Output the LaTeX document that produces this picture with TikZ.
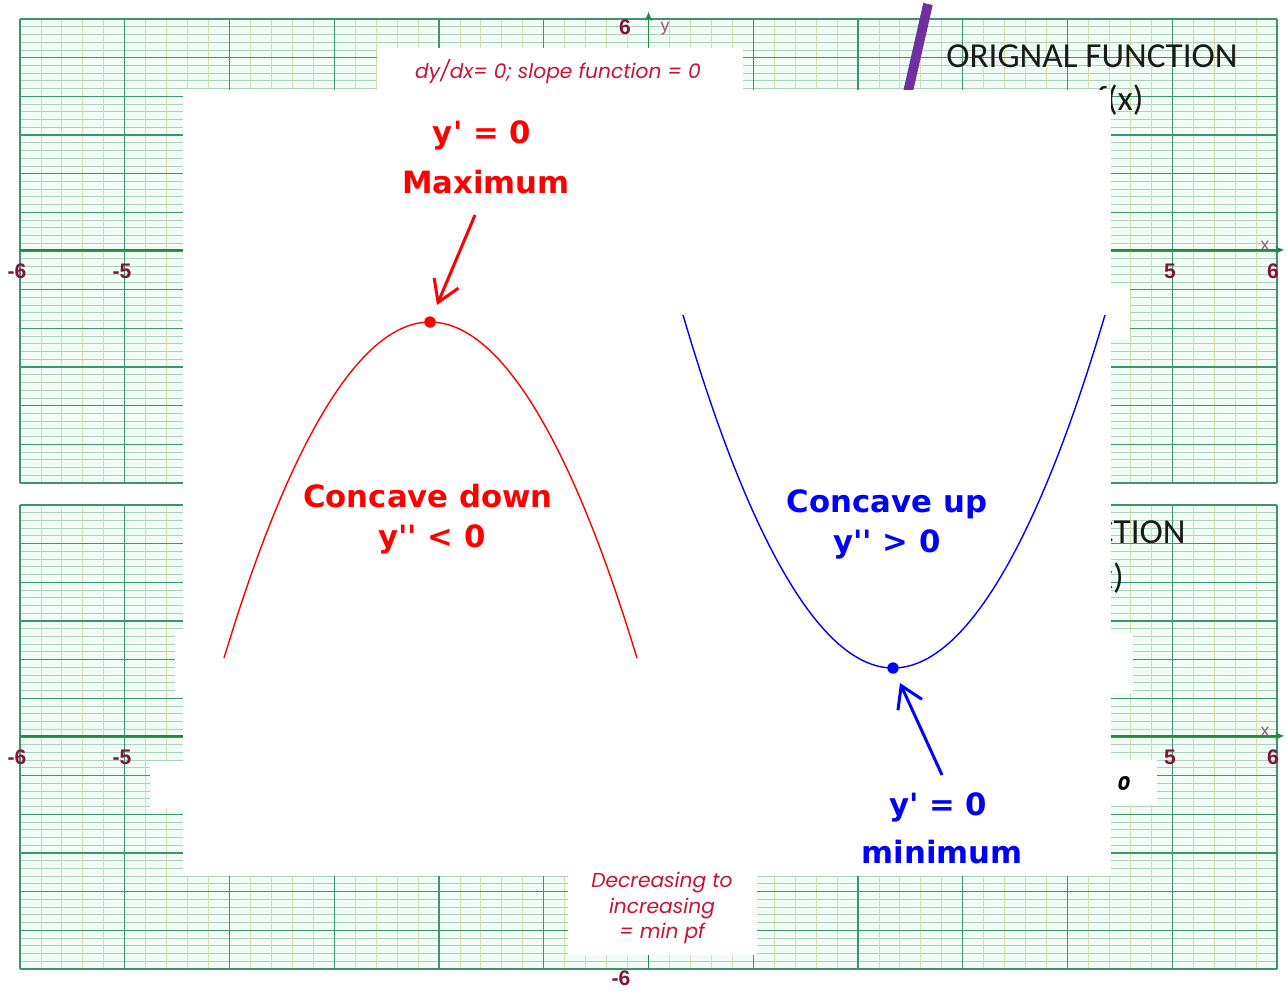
\documentclass[tikz,border=0pt]{standalone}
\usepackage{fontspec}
\setmainfont{DejaVu Sans}
\newfontfamily\pixfont{DejaVu Sans}
\newfontfamily\gothfont{Poppins}
\newfontfamily\calfont{Carlito}
\newfontfamily\tickfont{Liberation Sans}
\usetikzlibrary{arrows.meta}

\definecolor{paper}{RGB}{242,252,247}
\definecolor{minorh}{RGB}{172,210,188}
\definecolor{minorv}{RGB}{212,222,170}
\definecolor{majorgrid}{RGB}{62,148,112}
\definecolor{axisgreen}{RGB}{30,140,60}
\definecolor{tickred}{RGB}{130,20,60}
\definecolor{axisname}{RGB}{150,90,110}
\definecolor{crimson}{RGB}{200,20,50}
\definecolor{penpurple}{RGB}{112,48,160}

\tikzset{
  minor h/.style={minorh, line width=0.45pt},
  minor v/.style={minorv, line width=0.5pt},
  major line/.style={majorgrid, line width=0.8pt},
  axis line/.style={axisgreen, line width=1pt, -{Stealth[length=5pt,width=4pt]}},
  tick label/.style={tickred, inner sep=0pt, font=\tickfont\bfseries\fontsize{12}{12}\selectfont},
  axis name/.style={axisname, inner sep=0pt, font=\tickfont\fontsize{10}{10}\selectfont},
  title text/.style={black!90, inner sep=0pt, font=\calfont\fontsize{20}{22}\selectfont},
  note text/.style={crimson, inner sep=0pt, align=center, font=\gothfont\itshape\fontsize{11.5}{14.5}\selectfont},
  red label/.style={red, inner sep=0pt, anchor=base, font=\pixfont\bfseries\fontsize{17.5}{20}\selectfont},
  blue label/.style={blue, inner sep=0pt, anchor=base, font=\pixfont\bfseries\fontsize{17.5}{20}\selectfont},
  red dot/.style={circle, fill=red, inner sep=0pt, minimum size=6.5pt},
  blue dot/.style={circle, fill=blue, inner sep=0pt, minimum size=6.5pt},
  red arrow/.style={red, line width=1.7pt, ->},
  blue arrow/.style={blue, line width=1.7pt, ->}
}

\begin{document}
\begin{tikzpicture}[x=0.02cm, y=-0.02cm, >={Straight Barb[length=12pt,width=15pt]}]
\useasboundingbox (0,0) rectangle (1287,995);
\fill[white] (0,0) rectangle (1287,995);

% graph paper, one sheet above the other
\foreach \py/\p in {0/top, -9.72/bot}{
  \begin{scope}[yshift=\py cm]
    \fill[paper] (20,19) rectangle (1277,483);
    \foreach \i in {1,...,59} \draw[minor h] (20,19+\i*7.733) -- (1277,19+\i*7.733);
    \foreach \i in {1,...,59} \draw[minor v] (20+\i*20.95,19) -- (20+\i*20.95,483);
    \foreach \i in {0,...,12} \draw[major line] (20,19+\i*38.67) -- (1277,19+\i*38.67);
    \foreach \i in {0,...,12} \draw[major line] (20+\i*104.75,19) -- (20+\i*104.75,483);
    % axes
    \draw[axis line] (20,250) -- (1284,250);
    \draw[axis line] (648.5,483) -- (648.5,12);
    \node[tick label] (\p-m6) at (17,271) {-6};
    \node[tick label] (\p-m5) at (122,271) {-5};
    \node[tick label] (\p-p5) at (1170,271) {5};
    \node[tick label] (\p-p6) at (1273,271) {6};
    \node[tick label] (\p-ytop) at (625,27) {6};
    \node[tick label] (\p-ybot) at (621,492) {-6};
    \node[axis name] (\p-x) at (1265,246) {x};
    \node[axis name] (\p-y) at (665,29) {y};
  \end{scope}
}

% titles of the two sheets
\node[title text, anchor=base west] (origtitle) at (946,67) {ORIGNAL FUNCTION};
\node[title text, anchor=base west] (origf) at (1096,110) {f(x)};
\node[title text, anchor=base east] (slopetitle) at (1186,543) {FUNCTION};
\node[title text, anchor=base east] (slopef) at (1124,588) {f\textquotesingle(x)};
\draw[penpurple, line width=5.5pt] (928,4) -- (905,105);

% white cards pasted over the sheets
\fill[white] (183,90) rectangle (1111,876);
\fill[white] (377,48) rectangle (743,90);
\fill[white] (568,876) rectangle (757,955);
\fill[white] (1111,288) rectangle (1130,338);
\fill[white] (1111,633) rectangle (1133,693);
\fill[white] (1111,760) rectangle (1157,805);
\fill[white] (150,762) rectangle (183,808);
\fill[white] (175,630) rectangle (183,697);

\node[note text, anchor=base] (slopenote) at (558,78) {dy/dx= 0; slope function = 0};
\node[note text] (minnote) at (662,908) {Decreasing to\\increasing\\= min pf};
\node[inner sep=0pt, font=\gothfont\bfseries\itshape\fontsize{11}{11}\selectfont] (zeronote) at (1124,783) {0};

% concave down
\draw[red, line width=0.8pt] (224,658) parabola bend (430,322) (637,658);
\node[red dot] (maxpt) at (430,322) {};
\node[red label] (maxeq) at (482,143) {y\textquotesingle\ = 0};
\node[red label] (maxname) at (486,193) {Maximum};
\coordinate (maxtail) at (475,215);
\coordinate (maxtip) at (437,305);
\draw[red arrow] (maxtail) -- (maxtip);
\node[red label] (downname) at (428,507) {Concave down};
\node[red label] (downeq) at (432,547) {y\textquotesingle\textquotesingle\ < 0};

% concave up
\draw[blue, line width=0.8pt] (683,315) parabola bend (893,668) (1105,315);
\node[blue dot] (minpt) at (893,668) {};
\node[blue label] (upname) at (887,512) {Concave up};
\node[blue label] (upeq) at (887,552) {y\textquotesingle\textquotesingle\ > 0};
\node[blue label] (mineq) at (938,815) {y\textquotesingle\ = 0};
\node[blue label] (minname) at (942,863) {minimum};
\coordinate (mintail) at (942,775);
\coordinate (mintip) at (900,683);
\draw[blue arrow] (mintail) -- (mintip);
\end{tikzpicture}
\end{document}
